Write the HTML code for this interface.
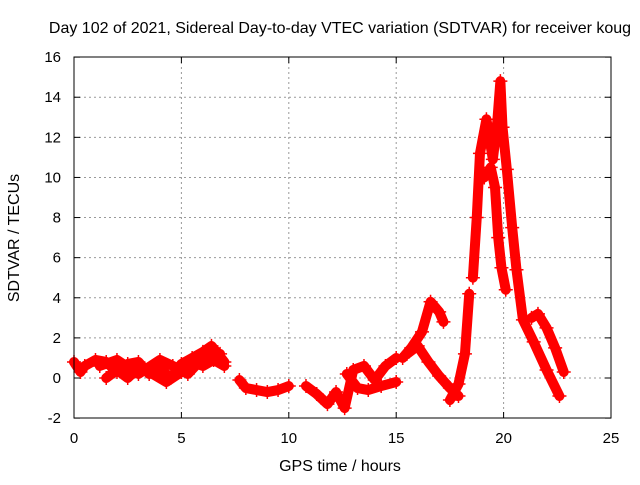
<!DOCTYPE html>
<html><head><meta charset="utf-8"><style>
body{margin:0;background:#fff;font-family:"Liberation Sans",sans-serif}
svg text{font-family:"Liberation Sans",sans-serif;font-size:15px;fill:#000}
</style></head><body>
<svg id="c" width="640" height="480">
<text x="340" y="33" text-anchor="middle" style="font-size:16px">Day 102 of 2021, Sidereal Day-to-day VTEC variation (SDTVAR) for receiver koug</text>
<text x="340" y="471" text-anchor="middle" style="font-size:16px">GPS time / hours</text>
<text transform="translate(19,238) rotate(-90)" text-anchor="middle" style="font-size:16px">SDTVAR / TECUs</text>
<g id="grid"></g><g id="marks"></g>
<rect x="74" y="57" width="537" height="361" fill="none" stroke="#000" stroke-width="1"/>
<g id="ticks"></g>
</svg>
<script>
const xTicks=[0,5,10,15,20,25];
const yTicks=[-2,0,2,4,6,8,10,12,14,16];
const trackA1=[[0,0.8],[0.3,0.3],[0.5,0.6],[1,0.9],[1.5,0.8],[2,0.3],[2.5,0.7],[3,0.8],[3.5,0.2],[4,0.5],[4.5,0.0],[5,0.7],[5.5,1.0],[6,1.3],[6.4,1.6],[7,0.8]];
const trackA2=[[1.5,0.0],[2,0.4],[2.5,0.0],[3,0.5],[3.5,0.3],[4.3,-0.2],[5,0.3],[5.5,0.8],[6,0.6],[6.5,0.9],[7,0.6]];
const trackA3=[[1.2,0.6],[2,0.9],[3,0.2],[4,0.9],[4.6,0.6],[5.3,0.2],[6,1.0],[6.8,1.2]];
const trackB=[[7.7,-0.1],[8,-0.5],[8.5,-0.6],[9,-0.7],[9.5,-0.6],[10,-0.4]];
const trackC1=[[10.8,-0.4],[11.3,-0.8],[11.8,-1.3],[12.2,-0.7],[12.6,-1.5],[13,0.4],[13.5,0.6],[14,-0.1],[14.5,0.6],[15,1.0]];
const trackC2=[[12.7,0.2],[13.2,-0.5],[13.7,-0.6],[14.3,-0.4],[15,-0.2]];
const trackD1=[[15.3,1.0],[15.7,1.5],[16.2,2.3],[16.6,3.8],[17,3.3],[17.2,2.8]];
const trackD2=[[15.5,1.2],[16,1.6],[16.5,0.8],[17,0.1],[17.5,-0.5],[17.9,-0.9]];
const trackE=[[17.5,-1.1],[17.9,-0.3],[18.2,1.2],[18.4,4.2]];
const trackF=[[18.57,5.0],[18.75,8],[18.9,11.2],[19.2,12.9],[19.5,10.9],[19.7,12.7],[19.85,14.8],[19.95,12.5],[20.15,10.4],[20.4,7.5],[20.6,5.4],[20.9,2.9],[21.4,1.8],[22.0,0.4],[22.6,-0.9]];
const trackG=[[19.1,10.0],[19.4,10.5],[19.6,9.5],[19.75,7.0],[19.9,5.5],[20.1,4.4]];
const trackH=[[21.3,3.0],[21.6,3.2],[22.0,2.5],[22.4,1.5],[22.8,0.3]];
const tracks=[trackA1,trackA2,trackA3,trackB,trackC1,trackC2,trackD1,trackD2,trackE,trackF,trackG,trackH];
const X=h=>74+h*(537/25), Y=v=>378-v*(361/18);
const NS="http://www.w3.org/2000/svg";
const grid=document.getElementById('grid'),ticks=document.getElementById('ticks'),marks=document.getElementById('marks');
function mk(tag,attrs,parent){const e=document.createElementNS(NS,tag);for(const k in attrs)e.setAttribute(k,attrs[k]);parent.appendChild(e);return e;}
xTicks.forEach(t=>{const x=X(t);
 if(t>0&&t<25){const g=mk('line',{x1:x,x2:x,y1:57,y2:418,stroke:'#999','stroke-dasharray':'2,3'},grid);
 
 }
 mk('line',{x1:x,x2:x,y1:418,y2:412,stroke:'#000'},ticks);mk('line',{x1:x,x2:x,y1:57,y2:63,stroke:'#000'},ticks);
 const l=mk('text',{x:x,y:443,'text-anchor':'middle'},ticks);l.textContent=t;
 
 });
yTicks.forEach(t=>{const y=Y(t);
 if(t>-2&&t<16){const g=mk('line',{x1:74,x2:611,y1:y,y2:y,stroke:'#999','stroke-dasharray':'2,3'},grid);
 
 }
 mk('line',{x1:74,x2:80,y1:y,y2:y,stroke:'#000'},ticks);mk('line',{x1:611,x2:605,y1:y,y2:y,stroke:'#000'},ticks);
 const l=mk('text',{x:61,y:y+5,'text-anchor':'end'},ticks);l.textContent=t;
 
 });
tracks.forEach(tr=>{
 const p=mk('polyline',{points:tr.map(d=>X(d[0])+','+Y(d[1])).join(' '),fill:'none',stroke:'#f00','stroke-width':10,'stroke-linejoin':'round','stroke-linecap':'round'},marks);
 
 
 tr.forEach(d=>{const x=X(d[0]),y=Y(d[1]);
  const m=mk('path',{d:`M${x-7},${y}H${x+7}M${x},${y-7}V${y+7}`,stroke:'#f00','stroke-width':1.5},marks);
  
  });
});
</script>
</body></html>
